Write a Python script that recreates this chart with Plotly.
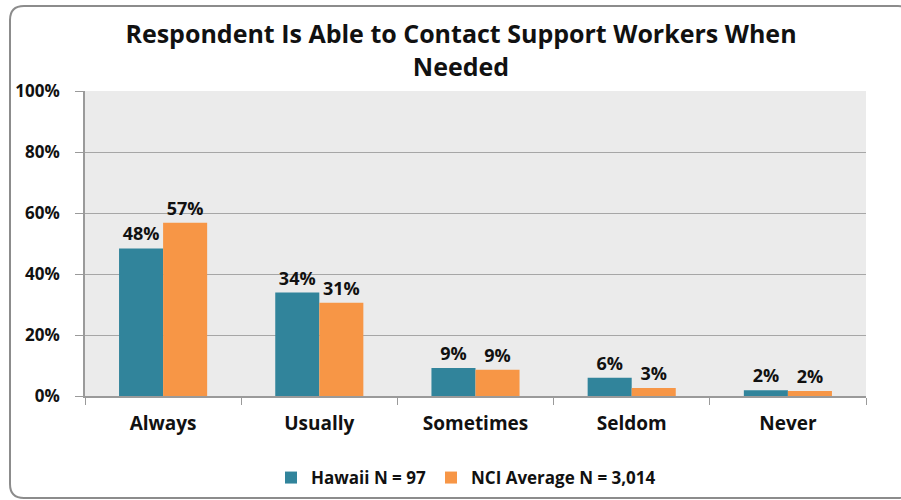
import plotly.graph_objects as go

categories = ["Always", "Usually", "Sometimes", "Seldom", "Never"]
hawaii = [48.4, 33.9, 9.2, 6.0, 1.9]
nci = [56.8, 30.6, 8.6, 2.6, 1.6]
hawaii_labels = ["48%", "34%", "9%", "6%", "2%"]
nci_labels = ["57%", "31%", "9%", "3%", "2%"]
series_names = ["Hawaii N = 97", "NCI Average N = 3,014"]
y_ticks = [0, 20, 40, 60, 80, 100]
y_tick_labels = ["0%", "20%", "40%", "60%", "80%", "100%"]

FONT = "Open Sans"
W, H = 901, 500
L, R, T, B = 85, 35, 91, 104
pw = W - L - R
ph = H - T - B

label_font = dict(family=FONT, size=18, color="#111", weight="bold")

fig = go.Figure()
fig.add_trace(go.Bar(
    x=categories, y=hawaii, name=series_names[0],
    marker=dict(color="#31849B", line=dict(width=0)),
    text=hawaii_labels, textposition="outside",
    textfont=label_font, cliponaxis=False,
))
fig.add_trace(go.Bar(
    x=categories, y=nci, name=series_names[1],
    marker=dict(color="#F79646", line=dict(width=0)),
    text=nci_labels, textposition="outside",
    textfont=label_font, cliponaxis=False,
))

# rounded outer frame in paper coords
def px(x):
    return (x - L) / pw

def py(y):
    return (H - B - y) / ph

x0, x1, y0, y1, r = 10, 912, 6, 498, 14
path = (
    f"M {px(x0+r)} {py(y0)} L {px(x1-r)} {py(y0)} "
    f"Q {px(x1)} {py(y0)} {px(x1)} {py(y0+r)} "
    f"L {px(x1)} {py(y1-r)} Q {px(x1)} {py(y1)} {px(x1-r)} {py(y1)} "
    f"L {px(x0+r)} {py(y1)} Q {px(x0)} {py(y1)} {px(x0)} {py(y1-r)} "
    f"L {px(x0)} {py(y0+r)} Q {px(x0)} {py(y0)} {px(x0+r)} {py(y0)} Z"
)
fig.add_shape(type="path", path=path, xref="paper", yref="paper",
              line=dict(color="#8c8c8c", width=2), layer="below")

fig.update_layout(
    width=W, height=H,
    margin=dict(l=L, r=R, t=T, b=B),
    paper_bgcolor="white",
    plot_bgcolor="#EBEBEB",
    barmode="group",
    bargap=0.436,
    bargroupgap=0,
    title=dict(
        text="Respondent Is Able to Contact Support Workers When<br>Needed",
        x=461 / W, xanchor="center", y=1 - 43 / H, yanchor="middle",
        font=dict(family=FONT, size=25, color="#111", weight="bold"),
    ),
    legend=dict(
        orientation="h", x=466 / W, xanchor="center", y=(H - 478) / H, yanchor="middle",
        xref="container", yref="container",
        font=dict(family=FONT, size=17, color="#111", weight="bold"),
        itemwidth=30, traceorder="normal",
    ),
    xaxis=dict(
        showgrid=False,
        showline=True, linecolor="#9a9a9a", linewidth=1.5,
        ticks="outside", tickson="boundaries", ticklen=7, tickcolor="#9a9a9a",
        tickfont=dict(family=FONT, size=19, color="#111", weight="bold"),
        ticklabelstandoff=9,
    ),
    yaxis=dict(
        range=[0, 100], tickvals=y_ticks, ticktext=y_tick_labels,
        showgrid=True, gridcolor="#a6a6a6", gridwidth=1,
        showline=True, linecolor="#9a9a9a", linewidth=1.5,
        ticks="outside", ticklen=8, tickcolor="#9a9a9a",
        tickfont=dict(family=FONT, size=17, color="#111", weight="bold"),
        ticklabelstandoff=12,
        zeroline=False,
    ),
)

fig.write_html("out.html", config={"displayModeBar": False},
               post_script="document.body.style.margin='0';")
